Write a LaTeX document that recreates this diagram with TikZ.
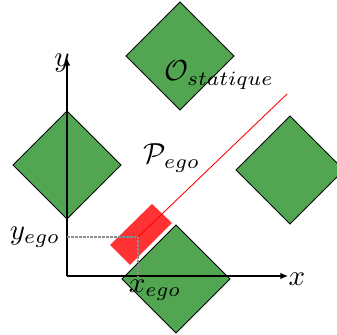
\documentclass[tikz,border=0pt]{standalone}
\usetikzlibrary{arrows.meta}
\definecolor{obsgreen}{RGB}{82,166,82}
\begin{document}
\begin{tikzpicture}[x=0.345pt,y=-0.345pt,
  obst/.style={draw=black, fill=obsgreen, line width=0.3pt, line join=miter},
  egobox/.style={fill=red, fill opacity=0.8, draw=none},
  axis/.style={draw=black, line width=0.4pt, -{Latex[length=2.6pt,width=2.2pt]}},
  proj/.style={draw=black!45, line width=0.35pt, dash pattern=on 1pt off 0.35pt},
  ray/.style={draw=red, line width=0.3pt},
  lbl/.style={inner sep=0pt}]
\useasboundingbox (0,0) rectangle (337,335);
% obstacles
\path[obst] (180,2) -- (234,56) -- (180,110) -- (126,56) -- cycle;
\path[obst] (67,111) -- (121,165) -- (67,219) -- (13,165) -- cycle;
\path[obst] (290,116) -- (344,170) -- (290,224) -- (236,170) -- cycle;
\path[obst] (176,225) -- (230,279) -- (176,333) -- (122,279) -- cycle;
% ego vehicle
\path[egobox] (110,245) -- (152,204) -- (172,223) -- (130,265) -- cycle;
% coordinates
\coordinate (O) at (67,276);
\coordinate (ytip) at (67,58);
\coordinate (xtip) at (288,276);
\coordinate (ego) at (138,237);
\coordinate (yego) at (67,237);
\coordinate (xego) at (138,276);
\coordinate (rayend) at (287,94);
% axes
\draw[axis] (O) -- (ytip);
\draw[axis] (O) -- (xtip);
% projections
\draw[proj] (yego) -- (ego) -- (xego);
% ray
\draw[ray] (ego) -- (rayend);
% labels
\node[lbl] (ylab) at (62,63) {$y$};
\node[lbl] (xlab) at (297,279) {$x$};
\node[lbl] (yegolab) at (35,237) {$y_{ego}$};
\node[lbl] (xegolab) at (155,290) {$x_{ego}$};
\node[lbl] (olab) at (219,75) {$\mathcal{O}_{statique}$};
\node[lbl] (plab) at (172,158) {$\mathcal{P}_{ego}$};
\end{tikzpicture}
\end{document}
